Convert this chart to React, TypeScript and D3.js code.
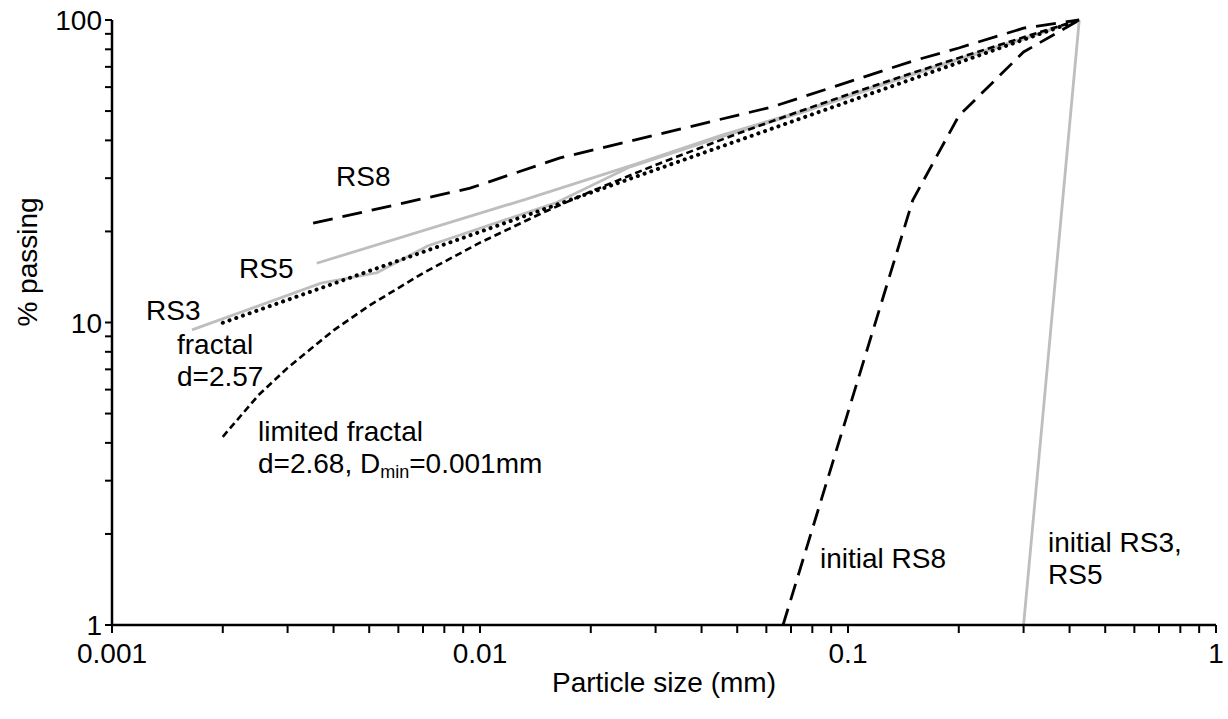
import React from "react";
import * as d3 from "d3";

// ---- data (particle size in mm, % passing) ----
const rs3Size = [0.00165, 0.0037, 0.00525, 0.0072, 0.016, 0.0256, 0.045, 0.075, 0.15, 0.3, 0.425];
const rs3Pass = [9.45, 13.5, 14.6, 17.9, 24.8, 32.7, 41, 49.5, 66, 86.5, 100];

const rs5Size = [0.0036, 0.0131, 0.0261, 0.045, 0.075, 0.15, 0.3, 0.425];
const rs5Pass = [15.7, 25.4, 33.2, 41.5, 50, 66.5, 87, 100];

const rs8Size = [0.00352, 0.0094, 0.0165, 0.0622, 0.15, 0.2, 0.3, 0.425];
const rs8Pass = [21.3, 27.8, 35.0, 51.6, 73.2, 80.8, 94, 100];

const initRS8Size = [0.0666, 0.15, 0.2, 0.3, 0.425];
const initRS8Pass = [1, 25.4, 48.2, 78.4, 100];

const initRS35Size = [0.3, 0.425];
const initRS35Pass = [1, 100];

const fractalSize = [0.002, 0.01, 0.1, 0.425];
const fractalPass = [9.98, 19.94, 53.68, 100];

const limFractalSize = [0.002, 0.0025, 0.003, 0.004, 0.005, 0.007, 0.01, 0.015, 0.02, 0.03, 0.05, 0.075, 0.1, 0.15, 0.2, 0.3, 0.425];
const limFractalPass = [4.19, 5.75, 7.08, 9.42, 11.37, 14.56, 18.36, 23.24, 27.1, 33.18, 42.08, 50.22, 56.69, 66.88, 74.96, 87.69, 100];

const xTickValues = [0.001, 0.01, 0.1, 1];
const xTickLabels = ["0.001", "0.01", "0.1", "1"];
const yTickValues = [1, 10, 100];
const yTickLabels = ["1", "10", "100"];

const W = 1228;
const H = 719;
const left = 112;
const right = 1216;
const top = 20;
const bottom = 625;
const FONT = "'Liberation Sans', Arial, sans-serif";
const FS = 28;

function zip(xs: number[], ys: number[]): [number, number][] {
  return xs.map((x, i) => [x, ys[i]]);
}

export default function App() {
  const x = d3.scaleLog().domain([0.001, 1]).range([left, right]);
  const y = d3.scaleLog().domain([1, 100]).range([bottom, top]);
  const line = d3
    .line<[number, number]>()
    .x((d) => x(d[0]))
    .y((d) => y(d[1]));

  const xMinor: number[] = [];
  for (let e = -3; e < 0; e++) for (let m = 2; m <= 9; m++) xMinor.push(m * Math.pow(10, e));
  const yMinor: number[] = [];
  for (let e = 0; e < 2; e++) for (let m = 2; m <= 9; m++) yMinor.push(m * Math.pow(10, e));

  const grey = "#BEBEBE";

  return (
    <svg
      width={W}
      height={H}
      style={{ position: "absolute", left: 0, top: 0, background: "#fff" }}
      fontFamily={FONT}
    >
      <rect x={0} y={0} width={W} height={H} fill="#fff" />
      {/* series */}
      <path d={line(zip(rs3Size, rs3Pass)) || ""} fill="none" stroke={grey} strokeWidth={2.8} />
      <path d={line(zip(rs5Size, rs5Pass)) || ""} fill="none" stroke={grey} strokeWidth={2.8} />
      <path d={line(zip(initRS35Size, initRS35Pass)) || ""} fill="none" stroke={grey} strokeWidth={2.8} />
      <path
        d={line(zip(limFractalSize, limFractalPass)) || ""}
        fill="none"
        stroke="#000"
        strokeWidth={2.6}
        strokeDasharray="7 4"
      />
      <path
        d={line(zip(fractalSize, fractalPass)) || ""}
        fill="none"
        stroke="#000"
        strokeWidth={4}
        strokeLinecap="round"
        strokeDasharray="0.1 7"
      />
      <path
        d={line(zip(rs8Size, rs8Pass)) || ""}
        fill="none"
        stroke="#000"
        strokeWidth={2.8}
        strokeDasharray="20 10"
      />
      <path
        d={line(zip(initRS8Size, initRS8Pass)) || ""}
        fill="none"
        stroke="#000"
        strokeWidth={2.8}
        strokeDasharray="17 9"
      />

      {/* axes */}
      <line x1={left} x2={left} y1={top} y2={bottom} stroke="#000" strokeWidth={2.5} />
      <line x1={left} x2={right} y1={bottom} y2={bottom} stroke="#000" strokeWidth={2.5} />
      {yTickValues.concat(yMinor).map((v, i) => (
        <line key={"yt" + i} x1={left - 7} x2={left} y1={y(v)} y2={y(v)} stroke="#000" strokeWidth={2} />
      ))}
      {xTickValues.concat(xMinor).map((v, i) => (
        <line key={"xt" + i} x1={x(v)} x2={x(v)} y1={bottom} y2={bottom + 8} stroke="#000" strokeWidth={2} />
      ))}
      {yTickValues.map((v, i) => (
        <text key={"yl" + i} x={left - 10} y={y(v) + 10} textAnchor="end" fontSize={FS} fill="#000">
          {yTickLabels[i]}
        </text>
      ))}
      {xTickValues.map((v, i) => (
        <text key={"xl" + i} x={x(v)} y={663} textAnchor="middle" fontSize={FS} fill="#000">
          {xTickLabels[i]}
        </text>
      ))}
      <text x={(left + right) / 2} y={692} textAnchor="middle" fontSize={FS} fill="#000">
        Particle size (mm)
      </text>
      <text
        transform={`translate(37, 262) rotate(-90)`}
        textAnchor="middle"
        fontSize={FS}
        fill="#000"
      >
        % passing
      </text>

      {/* annotations */}
      <g fontSize={FS} fill="#000">
        <text x={336} y={186}>RS8</text>
        <text x={239} y={278}>RS5</text>
        <text x={146} y={320}>RS3</text>
        <text x={177} y={354}>fractal</text>
        <text x={177} y={386}>d=2.57</text>
        <text x={258} y={441}>limited fractal</text>
        <text x={258} y={473}>
          d=2.68, D<tspan fontSize={18} dy={5}>min</tspan>
          <tspan dy={-5}>=0.001mm</tspan>
        </text>
        <text x={820} y={568}>initial RS8</text>
        <text x={1048} y={552}>initial RS3,</text>
        <text x={1048} y={584}>RS5</text>
      </g>
    </svg>
  );
}
